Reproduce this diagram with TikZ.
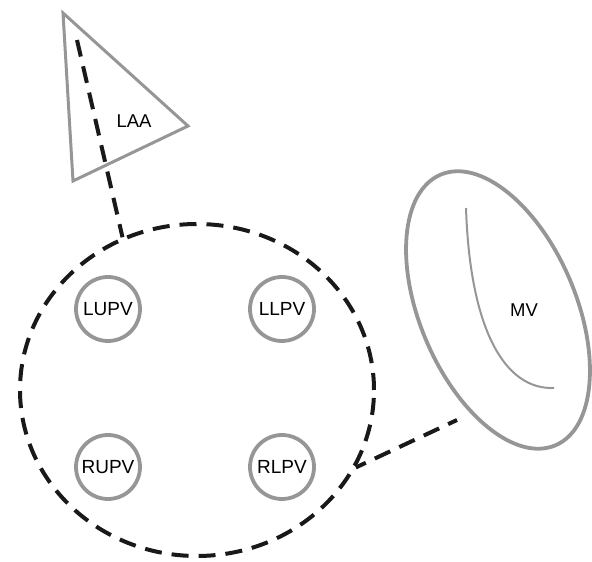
\documentclass[tikz,border=0pt]{standalone}
\usepackage{fontspec}
\setmainfont{Liberation Sans}
\usetikzlibrary{shapes.geometric}
\definecolor{lgray}{RGB}{150,150,150}
\tikzset{
  vessel/.style={circle, draw=lgray, line width=3.8pt, minimum size=64pt, inner sep=0pt, font=\fontsize{19}{21}\selectfont},
  dashline/.style={draw=black!90, line width=4pt, dash pattern=on 17pt off 10pt},
  lbl/.style={font=\fontsize{18.5}{20}\selectfont, inner sep=0pt}
}
\begin{document}
\begin{tikzpicture}[x=1pt,y=1pt]
\useasboundingbox (0,0) rectangle (592,562);
% left atrial appendage triangle
\coordinate (t1) at (63,549);
\coordinate (t2) at (188,436);
\coordinate (t3) at (73,381);
\draw[lgray, line width=3pt, line join=miter] (t1) -- (t2) -- (t3) -- cycle;
\node[lbl] (laa) at (134,441) {LAA};
% pulmonary vein region
\node[ellipse, dashline, minimum width=354pt, minimum height=332pt, inner sep=0pt] (pv) at (197,172) {};
\node[vessel] (lupv) at (108,253) {LUPV};
\node[vessel] (llpv) at (282,253) {LLPV};
\node[vessel] (rupv) at (108,95) {RUPV};
\node[vessel] (rlpv) at (282,95) {RLPV};
% mitral valve
\node[ellipse, draw=lgray, line width=3.8pt, minimum width=156pt, minimum height=294pt, inner sep=0pt, rotate=23] (mv) at (498,252) {};
\node[lbl] (mvl) at (524,252) {MV};
\draw[lgray, line width=2pt] (466,354) .. controls (470,232) and (505,172) .. (554,174);
% connectors
\coordinate (laastart) at (77,522);
\coordinate (mvend) at (457,142);
\draw[dashline] (laastart) -- (pv.116);
\draw[dashline, dash phase=6pt] (pv.-26) -- (mvend);
\end{tikzpicture}
\end{document}
